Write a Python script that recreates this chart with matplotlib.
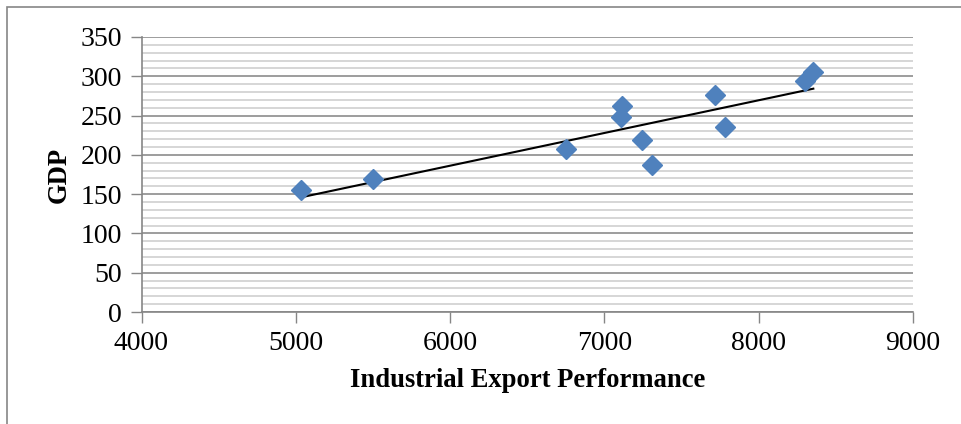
import matplotlib
matplotlib.use("Agg")
import matplotlib.pyplot as plt
import numpy as np
from matplotlib.patches import Rectangle

export_perf = [5034, 5500, 6751, 7112, 7110, 7246, 7309, 7719, 7783, 8300, 8354]
gdp = [155, 169, 207, 262, 248, 219, 187, 276, 235, 294, 305]
x_ticks = [4000, 5000, 6000, 7000, 8000, 9000]
y_ticks = [0, 50, 100, 150, 200, 250, 300, 350]

plt.rcParams['font.family'] = ['Liberation Serif', 'DejaVu Serif']

fig = plt.figure(figsize=(9.61, 4.24), dpi=100)
ax = fig.add_axes([141.5/961, 1-312/424, (913-141.5)/961, (312-37)/424])

ax.set_xlim(4000, 9000)
ax.set_ylim(0, 350)
ax.set_xticks(x_ticks)
ax.set_yticks(y_ticks)
ax.set_yticks(np.arange(0, 351, 10), minor=True)
ax.tick_params(axis='y', which='minor', length=0)
ax.tick_params(axis='both', which='major', labelsize=20, color='#868686', length=8, width=1)
ax.tick_params(axis='x', pad=6)
ax.tick_params(axis='y', pad=6)
ax.grid(axis='y', which='minor', color='#D0D0D0', linewidth=1.2)
ax.grid(axis='y', which='major', color='#8C8C8C', linewidth=1.2)
ax.set_axisbelow(True)
for s in ['top', 'right']:
    ax.spines[s].set_visible(False)
for s in ['left', 'bottom']:
    ax.spines[s].set_color('#868686')
    ax.spines[s].set_linewidth(1.2)

xs = np.array(export_perf, dtype=float)
ys = np.array(gdp, dtype=float)
m, b = np.polyfit(xs, ys, 1)
xl = np.array([xs.min(), xs.max()])
ax.plot(xl, m*xl + b, color='black', linewidth=1.5, zorder=3)
ax.plot(xs, ys, linestyle='none', marker='D', markersize=10.5, color='#4F81BD', zorder=4)

ax.set_xlabel('Industrial Export Performance', fontsize=19.2, fontweight='bold', labelpad=8)
ax.set_ylabel('GDP', fontsize=19.2, fontweight='bold', labelpad=6)

fig.patches.append(Rectangle((7/961, -0.1), 1.2, 1-7/424+0.1, transform=fig.transFigure,
                             fill=False, edgecolor='#868686', linewidth=1.2))

fig.savefig('out.png', dpi=100)
